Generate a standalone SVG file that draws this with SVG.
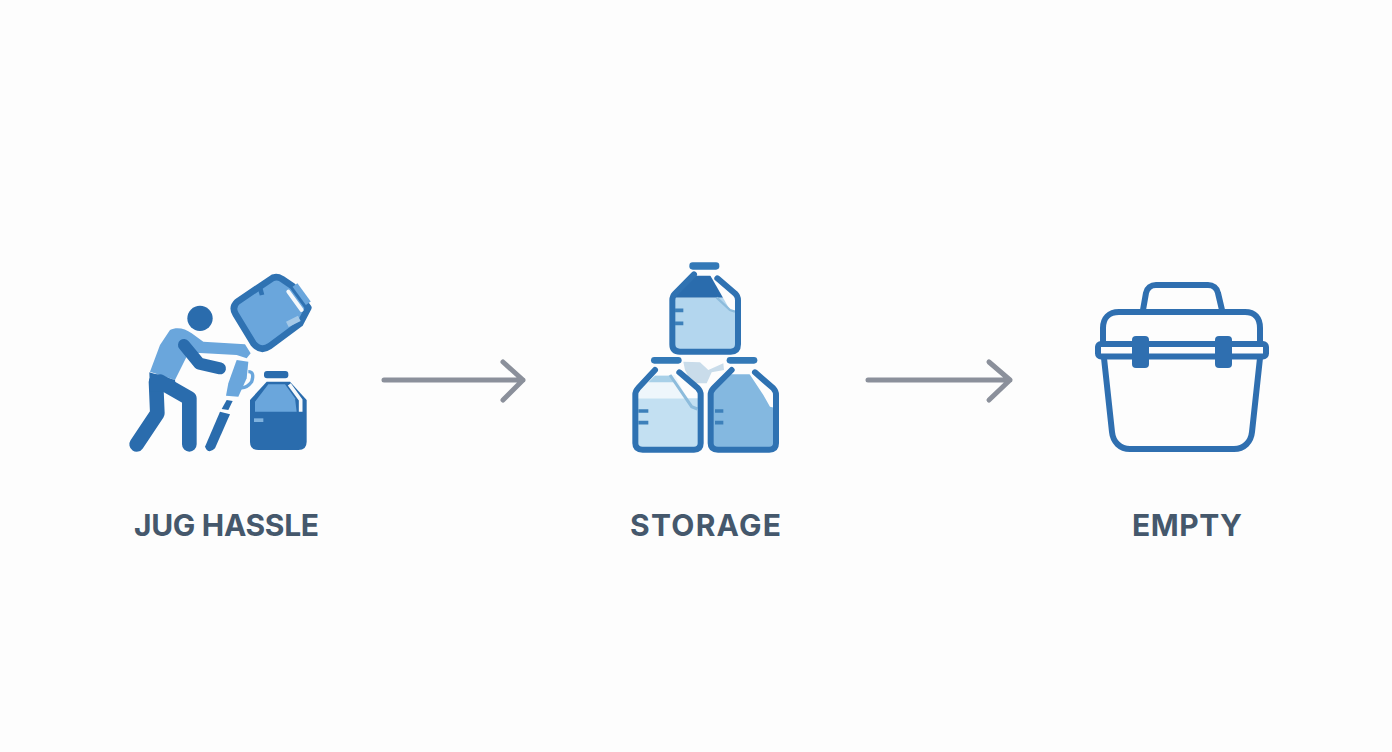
<svg xmlns="http://www.w3.org/2000/svg" width="1392" height="752" viewBox="0 0 1392 752">
<style>
.lbl{font-family:"Inter","Liberation Sans",sans-serif;font-weight:700;font-size:30px;fill:#45586c;text-anchor:middle}
.arr{fill:none;stroke:#8b909b;stroke-width:5;stroke-linecap:round;stroke-linejoin:round}
.ol{fill:none;stroke:#2f6fb0;stroke-width:6;stroke-linejoin:round;stroke-linecap:round}
.zo{fill:none;stroke:#2f72b2;stroke-width:18;stroke-linejoin:round;stroke-linecap:round}
.d{fill:#2a6cad}
.m{fill:#6aa6dc}
.cap{fill:#3379b7}
.tick{stroke:#3d80ba;stroke-width:11;fill:none}
.w{fill:none;stroke:#f4f8fb;stroke-linecap:round}
.leg{fill:none;stroke:#2a6cad;stroke-width:44;stroke-linecap:round;stroke-linejoin:round}
</style>
<rect width="1392" height="752" fill="#fdfdfd"/>
<g id="connectors">
<path class="arr" d="M384 380H523M503 362L523 380L503 400"/>
<path class="arr" d="M868 380H1010M989 362L1010 380L989 400"/>
</g>
<g id="jug-hassle" transform="translate(120 265) scale(.33333)">
<circle class="d" cx="240" cy="160" r="38"/>
<path class="m" d="M150 195C170 185 195 190 215 205L250 230L350 236L375 238L392 265L380 280L350 270L240 264L205 265L165 345L90 320L120 240Z"/>
<path fill="none" stroke="#2a6cad" stroke-width="36" stroke-linecap="round" stroke-linejoin="round" d="M192 240L238 296L300 310"/>
<path class="leg" d="M108 350L112 445L50 538"/>
<path class="leg" d="M120 350L208 400V538"/>
<path class="d" d="M88 322L165 345L170 380L90 380Z"/>
<path class="m" d="M350 285L385 290L380 340L355 395L318 392L325 355Z"/>
<path fill="none" stroke="#6aa6dc" stroke-width="10" d="M385 320Q405 320 395 350Q380 370 362 368"/>
<path class="d" d="M320 405L338 408L325 435L305 432Z"/>
<path class="d" d="M300 440L330 448L285 550Q265 570 255 545Z"/>
<path d="M450 44L352 110Q334 127 347 148L400 235Q422 262 448 244L540 176L565 128L518 64L486 42Q466 30 450 44Z" fill="#6aa6dc" stroke="#2f72b2" stroke-width="20" stroke-linejoin="round"/>
<path d="M420 68L426 90" stroke="#2f72b2" stroke-width="14" fill="none"/>
<path class="w" stroke-width="12" d="M505 80L545 135"/>
<path d="M525 60L565 115" stroke="#6aa6dc" stroke-width="18" fill="none"/>
<path d="M502 178L538 160" stroke="#a5c9e8" stroke-width="18" fill="none"/>
<rect class="d" x="432" y="318" width="73" height="22" rx="9"/>
<path class="d" d="M440 350L390 405V530Q390 555 415 555H535Q560 555 560 530V405L510 350Z"/>
<path class="m" d="M445 358L405 410V440H530L525 400L495 358Z"/>
<path d="M508 358L542 405V440" stroke="#f6f9fb" stroke-width="11" fill="none"/>
<rect x="402" y="460" width="28" height="11" fill="#7fb2de"/>
</g>
<g id="storage" transform="translate(620 255) scale(.33333)">
<path d="M225 62L158 128H345L290 62Z" fill="#2a6cad"/>
<path d="M158 128H352V270Q352 290 332 290H178Q158 290 158 270Z" fill="#b3d6ee"/>
<path d="M270 60L292 60L350 128V170L330 165Z" fill="#fdfdfd"/>
<path d="M290 128L330 165L345 170" fill="none" stroke="#8dbcdc" stroke-width="7"/>
<path class="zo" d="M222 58L165 116Q157 124 157 136V268Q157 290 180 290H332Q354 290 354 268V136Q354 124 346 116L292 70"/>
<rect class="cap" x="208" y="22" width="90" height="22" rx="10"/>
<path class="tick" d="M165 166H190M165 205H190"/>
<path d="M190 320L240 322L265 345L310 325L312 345L275 352L260 385H215L195 345Z" fill="#c9dcea"/>
<path d="M50 430H240V565Q240 585 220 585H70Q50 585 50 565Z" fill="#c3e0f2"/>
<path d="M50 430L60 395L105 360H165L200 430Z" fill="#eef6fb"/>
<path d="M105 362H150L170 382H85Z" fill="#a8d0e8"/>
<path d="M150 360L215 455L232 462" fill="none" stroke="#8dbcdc" stroke-width="9"/>
<path class="zo" d="M105 345L54 400Q46 408 46 420V565Q46 584 68 584H222Q242 584 242 565V420Q242 408 234 400L178 352"/>
<rect class="cap" x="93" y="306" width="92" height="20" rx="10"/>
<path class="tick" d="M55 468H85M55 503H85"/>
<path d="M275 415L325 358H395L470 450V570Q470 585 450 585H290Q275 585 275 570Z" fill="#84b8e0"/>
<path d="M385 352L405 352L470 420V460L450 455L430 420Z" fill="#fdfdfd"/>
<path class="zo" d="M335 345L280 400Q272 408 272 420V565Q272 584 294 584H448Q468 584 468 565V420Q468 408 460 400L405 352"/>
<rect class="cap" x="320" y="306" width="92" height="20" rx="10"/>
<path class="tick" d="M285 468H310M285 503H310"/>
</g>
<g id="empty">
<path class="ol" d="M1143 310L1146 293C1147 288 1151 285 1156 285H1208C1213 285 1217 288 1218 293L1222 310"/>
<path class="ol" d="M1103 342V328C1103 318 1109 312 1119 312H1245C1255 312 1260 318 1260 328V342"/>
<path class="ol" d="M1104 358L1112 432C1113 442 1120 449 1130 449H1234C1244 449 1251 442 1252 432L1260 358"/>
<rect x="1098" y="344" width="168" height="12.500" rx="3" fill="#fdfdfd" stroke="#2f6fb0" stroke-width="6"/>
<rect x="1132" y="336" width="17" height="32" rx="4" fill="#2f6fb0"/>
<rect x="1215" y="336" width="17" height="32" rx="4" fill="#2f6fb0"/>
</g>
<text class="lbl" x="226.500" y="536" textLength="185">JUG HASSLE</text>
<text class="lbl" x="705.500" y="536" textLength="151">STORAGE</text>
<text class="lbl" x="1187" y="536" textLength="110">EMPTY</text>
</svg>
